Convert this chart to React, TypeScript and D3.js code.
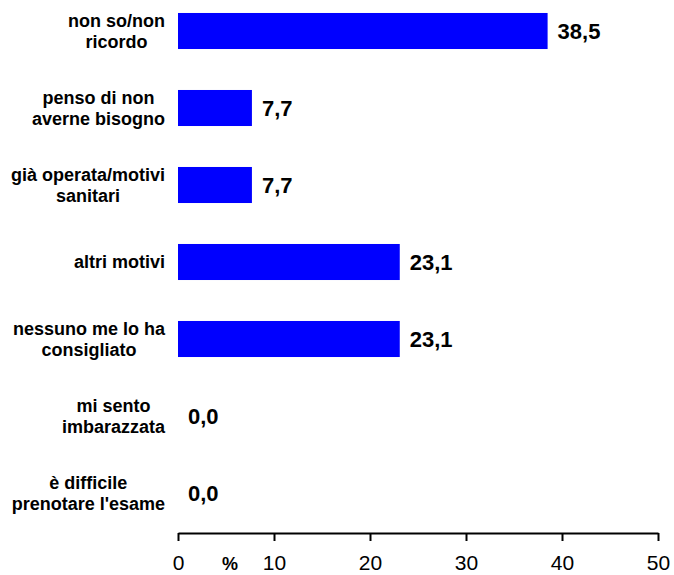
import React, { useEffect, useRef } from "react";
import * as d3 from "d3";

const categories = [
	["non so/non", "ricordo"],
	["penso di non", "averne bisogno"],
	["già operata/motivi", "sanitari"],
	["altri motivi"],
	["nessuno me lo ha", "consigliato"],
	["mi sento", "imbarazzata"],
	["è difficile", "prenotare l'esame"],
];
const values = [38.5, 7.7, 7.7, 23.1, 23.1, 0.0, 0.0];
const xTicks = [0, 10, 20, 30, 40, 50];

const App: React.FC = () => {
	const chartRef = useRef<SVGSVGElement | null>(null);

	useEffect(() => {
		if (!chartRef.current) return;
		const svg = d3.select(chartRef.current);
		const font = "'Liberation Sans', Arial, sans-serif";

		const keys = categories.map((c) => c.join(" "));

		const xScale = d3.scaleLinear().domain([0, 50]).range([178, 658]);
		const yScale = d3
			.scaleBand()
			.domain(keys)
			.range([-7.5, 531.5])
			.paddingInner(0.532)
			.paddingOuter(0.266);

		svg.selectAll(".bar")
			.data(values)
			.enter()
			.append("rect")
			.attr("class", "bar")
			.attr("x", xScale(0))
			.attr("y", (d, i) => yScale(keys[i]) as number)
			.attr("width", (d) => xScale(d) - xScale(0))
			.attr("height", yScale.bandwidth())
			.attr("fill", "#0000ff");

		svg.selectAll(".bar-label")
			.data(values)
			.enter()
			.append("text")
			.attr("class", "bar-label")
			.attr("x", (d) => xScale(d) + 10)
			.attr("y", (d, i) => (yScale(keys[i]) as number) + yScale.bandwidth() / 2)
			.attr("dy", "0.36em")
			.attr("font-family", font)
			.attr("font-weight", "bold")
			.attr("font-size", 22)
			.text((d) => d.toFixed(1).replace(".", ","));

		// category labels: block right-aligned, lines centred inside it
		const labelRight = 165;
		categories.forEach((lines, i) => {
			const cy = (yScale(keys[i]) as number) + yScale.bandwidth() / 2;
			const g = svg.append("g");
			const texts = lines.map((line, j) =>
				g
					.append("text")
					.attr("y", cy + (j - (lines.length - 1) / 2) * 21.5)
					.attr("dy", "0.36em")
					.attr("text-anchor", "middle")
					.attr("font-family", font)
					.attr("font-weight", "bold")
					.attr("font-size", 18)
					.text(line)
			);
			const maxW = d3.max(texts, (t) => (t.node() as SVGTextElement).getComputedTextLength()) || 0;
			texts.forEach((t) => t.attr("x", labelRight - maxW / 2));
		});

		const axis = svg
			.append("g")
			.attr("transform", "translate(0,533)")
			.call(d3.axisBottom(xScale).tickValues(xTicks).tickSize(8).tickSizeOuter(0).tickPadding(14));
		axis.select(".domain").attr("stroke", "#000").attr("stroke-width", 2);
		axis.selectAll(".tick line").attr("stroke", "#000").attr("stroke-width", 2);
		axis.selectAll(".tick text")
			.attr("font-family", font)
			.attr("font-size", 21)
			.attr("fill", "#000");

		svg.append("text")
			.attr("x", 230)
			.attr("y", 570)
			.attr("text-anchor", "middle")
			.attr("font-family", font)
			.attr("font-weight", "bold")
			.attr("font-size", 18)
			.text("%");

		return () => {
			svg.selectAll("*").remove();
		};
	}, []);

	return (
		<svg
			ref={chartRef}
			width={674}
			height={575}
			style={{ position: "absolute", left: 0, top: 0, background: "#fff" }}
		/>
	);
};

export default App;
